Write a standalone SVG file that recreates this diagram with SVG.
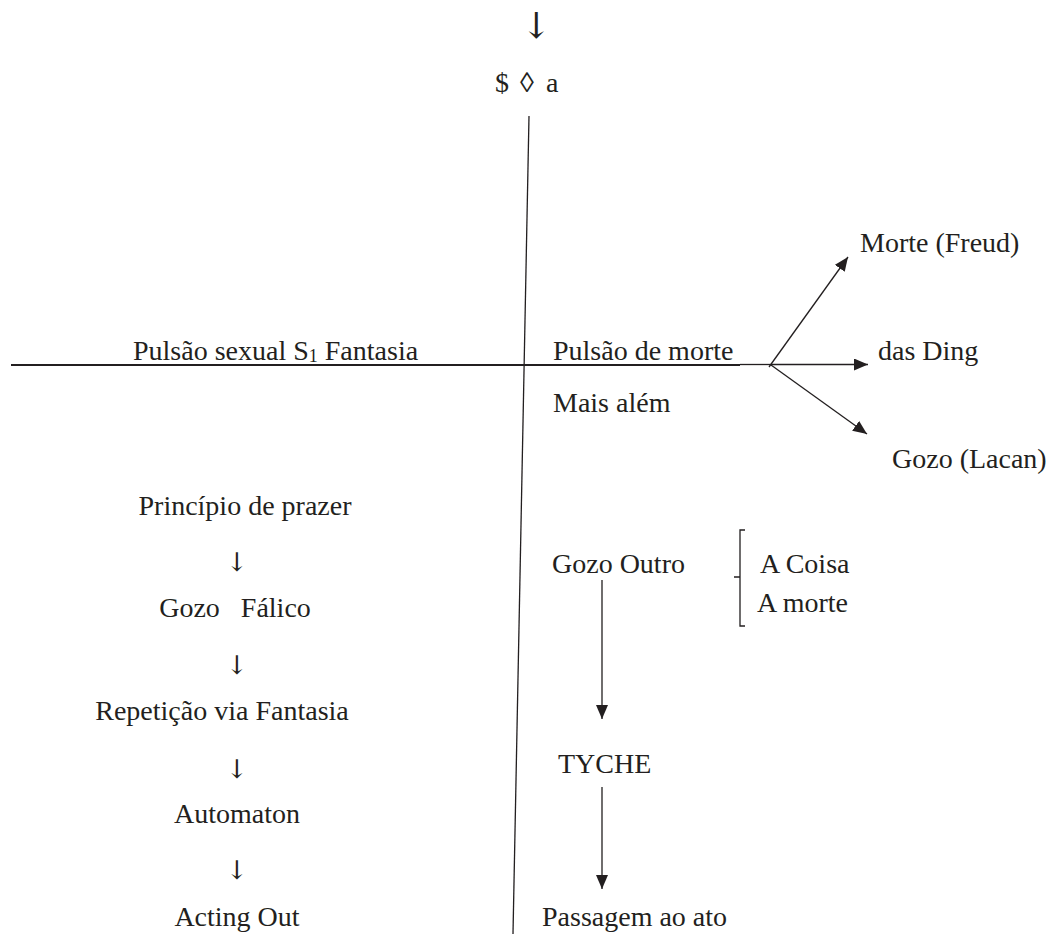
<svg xmlns="http://www.w3.org/2000/svg" width="1054" height="934" viewBox="0 0 1054 934">
<defs>
<marker id="ah" viewBox="0 0 14 12" refX="14" refY="6" markerWidth="14" markerHeight="12" markerUnits="userSpaceOnUse" orient="auto">
<path d="M0,0 L14,6 L0,12 Z" fill="#231f20"/>
</marker>
</defs>
<style>
text{font-family:"Liberation Serif","Times New Roman",serif;font-size:28px;fill:#231f20}
text.arr{font-family:"DejaVu Serif","DejaVu Sans",serif;font-size:26px}
.thin{stroke:#231f20;stroke-width:1.3;fill:none}
.thick{stroke:#231f20;stroke-width:2.2;fill:none}
</style>
<rect width="1054" height="934" fill="#fff"/>
<g id="connectors">
<line class="thin" x1="529" y1="116" x2="513" y2="934"/>
<line class="thick" x1="11" y1="365" x2="740" y2="365"/>
<line class="thin" x1="740" y1="364.5" x2="771" y2="364.5"/>
<line class="thin" x1="771" y1="364.5" x2="868" y2="364.5" marker-end="url(#ah)"/>
<line class="thin" x1="769" y1="367" x2="848" y2="257" marker-end="url(#ah)"/>
<line class="thin" x1="771" y1="365" x2="867" y2="434" marker-end="url(#ah)"/>
<line class="thin" x1="602" y1="580" x2="602" y2="719" marker-end="url(#ah)"/>
<line class="thin" x1="602" y1="787" x2="602" y2="889" marker-end="url(#ah)"/>
<path class="thin" d="M745,530 L740,530 L740,626 L745,626 M740,577 L734,577"/>
</g>
<g id="top-arrow"><text class="arr" x="536" y="38" text-anchor="middle" style="font-size:36px">↓</text></g>
<g id="fantasma"><text y="92"><tspan x="495">$</tspan><tspan x="520">◊</tspan><tspan x="546">a</tspan></text></g>
<g id="pulsao-sexual"><text x="133" y="360">Pulsão sexual S<tspan font-size="18" dy="2">1</tspan><tspan dy="-2"> Fantasia</tspan></text></g>
<g id="pulsao-morte"><text x="553" y="360">Pulsão de morte</text></g>
<g id="das-ding"><text x="878" y="360">das Ding</text></g>
<g id="morte-freud"><text x="860" y="252">Morte (Freud)</text></g>
<g id="mais-alem"><text x="553" y="412">Mais além</text></g>
<g id="gozo-lacan"><text x="892" y="468">Gozo (Lacan)</text></g>
<g id="principio"><text x="245" y="515" text-anchor="middle">Princípio de prazer</text></g>
<g id="arrow1"><text class="arr" x="237" y="571" text-anchor="middle">↓</text></g>
<g id="gozo-falico"><text x="235" y="617" text-anchor="middle" xml:space="preserve">Gozo   Fálico</text></g>
<g id="arrow2"><text class="arr" x="237" y="674" text-anchor="middle">↓</text></g>
<g id="repeticao"><text x="222" y="720" text-anchor="middle">Repetição via Fantasia</text></g>
<g id="arrow3"><text class="arr" x="237" y="778" text-anchor="middle">↓</text></g>
<g id="automaton"><text x="237" y="823" text-anchor="middle">Automaton</text></g>
<g id="arrow4"><text class="arr" x="237" y="879" text-anchor="middle">↓</text></g>
<g id="acting-out"><text x="237" y="926" text-anchor="middle">Acting Out</text></g>
<g id="gozo-outro"><text x="552" y="573">Gozo Outro</text></g>
<g id="a-coisa"><text x="760" y="573">A Coisa</text></g>
<g id="a-morte"><text x="757" y="612">A morte</text></g>
<g id="tyche"><text x="558" y="773">TYCHE</text></g>
<g id="passagem"><text x="542" y="926">Passagem ao ato</text></g>
</svg>
